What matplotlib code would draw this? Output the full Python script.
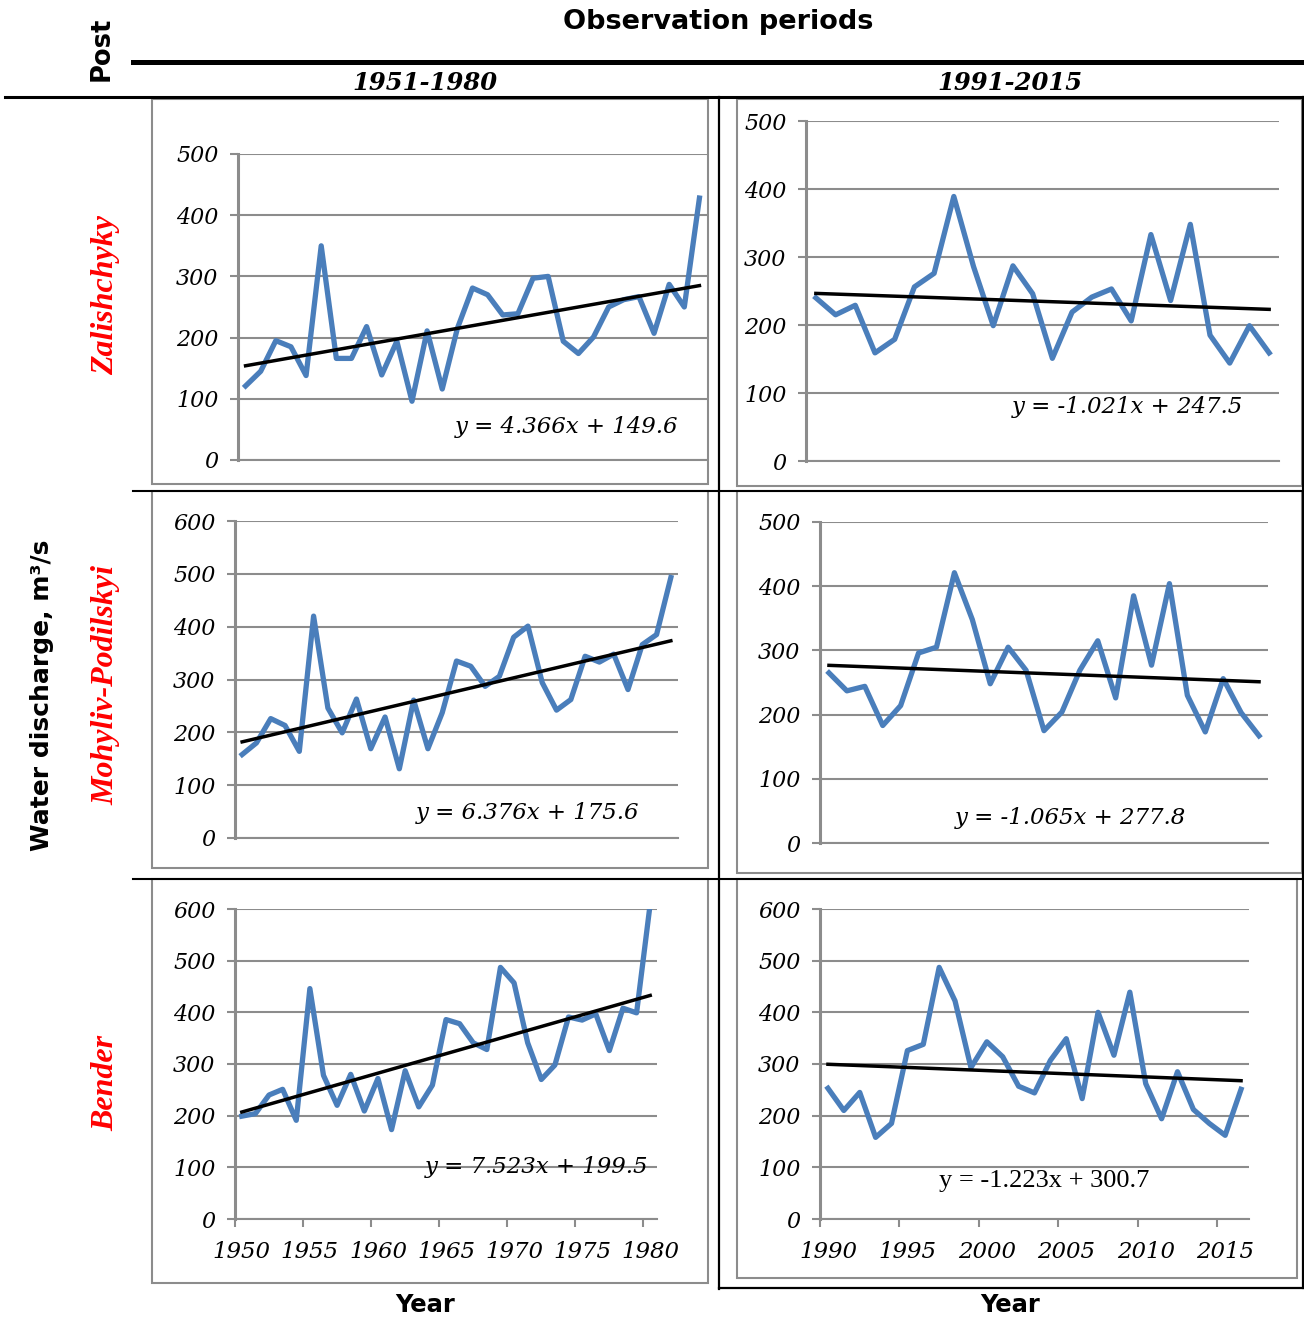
import numpy as np
import matplotlib.pyplot as plt
from matplotlib.lines import Line2D
from matplotlib.patches import Rectangle

# ---- data ----
years_1 = list(range(1950, 1981))
zal_years_2 = list(range(1991, 2015))
moh_years_2 = list(range(1991, 2016))
ben_years_2 = list(range(1990, 2017))

zal_1 = [121, 145, 195, 185, 138, 350, 166, 166, 218, 139, 194, 96, 211, 116, 215, 281,
         270, 237, 239, 297, 300, 194, 174, 201, 250, 262, 267, 207, 287, 250, 428]
zal_2 = [240, 215, 229, 159, 179, 256, 276, 389, 286, 199, 287, 246, 151, 219, 241, 253,
         206, 333, 236, 348, 185, 144, 199, 159]
moh_1 = [158, 180, 226, 213, 164, 420, 246, 199, 263, 169, 229, 131, 261, 169, 237, 335,
         325, 287, 306, 380, 401, 294, 242, 262, 344, 333, 348, 281, 366, 385, 493]
moh_2 = [265, 237, 244, 183, 214, 296, 305, 421, 348, 248, 305, 269, 175, 204, 269, 315,
         226, 385, 277, 404, 230, 173, 256, 203, 167]
ben_1 = [199, 204, 240, 251, 191, 446, 278, 220, 280, 209, 272, 173, 287, 217, 259, 386,
         378, 341, 328, 487, 457, 341, 270, 298, 391, 385, 397, 326, 408, 399, 610]
ben_2 = [253, 210, 245, 158, 185, 326, 338, 487, 422, 293, 343, 314, 257, 244, 307, 349,
         233, 400, 317, 439, 262, 194, 285, 212, 185, 162, 251]

# linear trends y = a*x + b (x = 1..n)
trend_a = [4.366, -1.021, 6.376, -1.065, 7.523, -1.223]
trend_b = [149.6, 247.5, 175.6, 277.8, 199.5, 300.7]
eq_labels = ["y = 4.366x + 149.6", "y = -1.021x + 247.5", "y = 6.376x + 175.6",
             "y = -1.065x + 277.8", "y = 7.523x + 199.5", "y = -1.223x + 300.7"]

tick_years_1 = [1950, 1955, 1960, 1965, 1970, 1975, 1980]
tick_years_2 = [1990, 1995, 2000, 2005, 2010, 2015]

posts = ["Zalishchyky", "Mohyliv-Podilskyi", "Bender"]
periods = ["1951-1980", "1991-2015"]

W, H = 1304, 1319
GRAY = "#8c8c8c"
BLUE = "#4a7ebb"

plt.rcParams["font.family"] = "DejaVu Serif"
plt.rcParams["font.style"] = "italic"

fig = plt.figure(figsize=(W / 100, H / 100), dpi=100)


def box(x0, y0, x1, y1):
    return [x0 / W, 1 - y1 / H, (x1 - x0) / W, (y1 - y0) / H]


def hline(x0, x1, y, lw, color="black"):
    fig.add_artist(Line2D([x0 / W, x1 / W], [1 - y / H, 1 - y / H],
                          transform=fig.transFigure, color=color, lw=lw))


def vline(x, y0, y1, lw, color="black"):
    fig.add_artist(Line2D([x / W, x / W], [1 - y0 / H, 1 - y1 / H],
                          transform=fig.transFigure, color=color, lw=lw))


def frame(x0, y0, x1, y1):
    fig.add_artist(Rectangle((x0 / W, 1 - y1 / H), (x1 - x0) / W, (y1 - y0) / H,
                             transform=fig.transFigure, fill=False, ec=GRAY, lw=1.5))


def ftext(x, y, s, **kw):
    fig.text(x / W, 1 - y / H, s, ha="center", va="center", **kw)


def panel(rect, years, values, i, ymax, eq_xy, ticks=None, eq_font=None):
    ax = fig.add_axes(box(*rect))
    n = len(values)
    ax.plot(years, values, color=BLUE, lw=3.8, zorder=3)
    ax.plot([years[0], years[-1]], [trend_a[i] * 1 + trend_b[i], trend_a[i] * n + trend_b[i]],
            color="black", lw=2.5, zorder=4)
    ax.set_xlim(years[0] - 0.5, years[-1] + 0.5)
    ax.set_ylim(0, ymax)
    ax.set_yticks(range(0, ymax + 1, 100))
    ax.grid(axis="y", color=GRAY, lw=1.5)
    ax.set_axisbelow(True)
    for s in ["top", "right"]:
        ax.spines[s].set_visible(False)
    ax.spines["left"].set_color(GRAY)
    ax.spines["left"].set_linewidth(2.2)
    ax.spines["bottom"].set_color(GRAY)
    ax.spines["bottom"].set_linewidth(1.5)
    ax.tick_params(axis="y", length=6, width=1.5, color=GRAY, pad=8, labelsize=16)
    if ticks is None:
        ax.set_xticks([])
    else:
        bounds = np.arange(years[0] - 0.5, years[-1], 5)
        ax.set_xticks(bounds, [""] * len(bounds))
        ax.set_xticks(ticks, [str(t) for t in ticks], minor=True)
        ax.tick_params(axis="x", which="major", length=6, width=1.5, color=GRAY)
        ax.tick_params(axis="x", which="minor", length=0, pad=16, labelsize=16.5)
    kw = dict(fontsize=16.5)
    if eq_font:
        kw = dict(fontsize=19, family=eq_font, style="normal")
    ax.text(eq_xy[0], eq_xy[1], eq_labels[i], transform=ax.transAxes,
            ha="center", va="center", zorder=5, **kw)
    return ax


# ---- table lines ----
hline(133, 1304, 62, 3.6)
hline(5, 1304, 97, 2.2)
hline(133, 1304, 490.5, 1.5)
hline(133, 1304, 879, 1.5)
vline(719, 97, 1289, 1.6)
hline(719, 1304, 1288, 1.6)
vline(1303, 97, 1288, 1.6)

# ---- chart frames ----
frame(152, 99, 708, 484)
frame(737, 99, 1302, 486)
frame(152, 491, 708, 868)
frame(737, 491, 1302, 873)
frame(152, 879, 708, 1283)
frame(737, 879, 1297, 1278)

# ---- panels ----
panel((238, 154, 707, 460), years_1, zal_1, 0, 500, (0.70, 0.108))
panel((806, 121, 1279, 461), zal_years_2, zal_2, 1, 500, (0.68, 0.16))
panel((235, 521, 678, 838), years_1, moh_1, 2, 600, (0.66, 0.079))
panel((820, 522, 1268, 843), moh_years_2, moh_2, 3, 500, (0.56, 0.078))
panel((235, 909, 657, 1219), years_1, ben_1, 4, 600, (0.714, 0.168), ticks=tick_years_1)
panel((820, 909, 1249, 1219), ben_years_2, ben_2, 5, 600, (0.522, 0.123), ticks=tick_years_2,
      eq_font="Liberation Serif")

# ---- headers and labels ----
sans = dict(family="DejaVu Sans", style="normal", weight="bold")
ftext(102, 49, "Post", rotation=90, fontsize=18.5, **sans)
ftext(718, 22, "Observation periods", fontsize=19.5, **sans)
ftext(425, 83, periods[0], fontsize=17.5, weight="bold", style="italic")
ftext(1010, 83, periods[1], fontsize=17.5, weight="bold", style="italic")
red = dict(family="Liberation Serif", style="italic", weight="bold", color="red", rotation=90)
ftext(106, 295, posts[0], fontsize=23, **red)
ftext(106, 685, posts[1], fontsize=23, **red)
ftext(106, 1083, posts[2], fontsize=23, **red)
ftext(42, 695, "Water discharge, m³/s", rotation=90, fontsize=18, **sans)
ftext(425, 1305, "Year", fontsize=17.5, **sans)
ftext(1010, 1305, "Year", fontsize=17.5, **sans)

fig.savefig("out.png", dpi=100)
